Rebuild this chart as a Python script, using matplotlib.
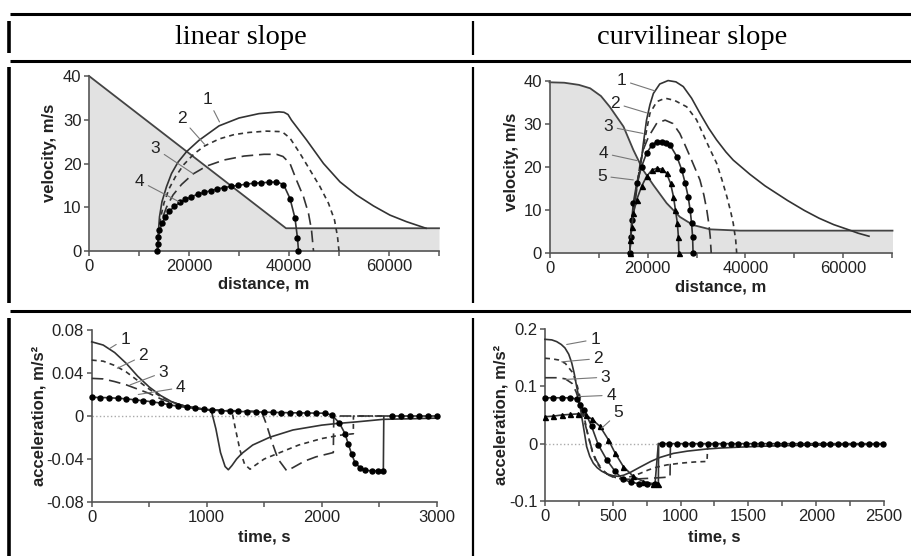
import matplotlib
matplotlib.use('Agg')
import matplotlib.pyplot as plt
from matplotlib.lines import Line2D

plt.rcParams['font.family'] = ['Liberation Sans', 'DejaVu Sans']
plt.rcParams['axes.unicode_minus'] = False

# ---------------- data: linear slope, velocity vs distance ----------------
lin_slope_x = [0, 39400, 70000]
lin_slope_y = [40, 5.2, 5.2]

lin_v1_x = [13700, 13850, 14100, 14600, 15500, 16500, 17800, 19500, 22000, 26000, 30000, 34000,
            38000, 39000, 39800, 40500, 43500, 46900, 50200, 53500, 56900, 60200, 63500, 67400]
lin_v1_y = [0, 4, 7.8, 11.3, 14.7, 17.7, 20.3, 22.7, 25.3, 28.6, 30.4, 31.4,
            31.8, 31.7, 31.2, 29.9, 25.4, 20, 15.8, 12.8, 10.3, 8.2, 6.7, 5.2]

lin_v2_x = [13700, 13900, 14300, 15000, 16000, 17300, 19000, 21000, 23100, 26000, 29000, 32000,
            35500, 38000, 38900, 40200, 42200, 44200, 46200, 47900, 49100, 49700, 50000]
lin_v2_y = [0, 4, 7.5, 11, 14.2, 17, 19.8, 22.2, 24, 25.6, 26.6, 27.1,
            27.4, 27.3, 27.0, 25.8, 22.3, 18.5, 14.7, 10.9, 7.1, 3.3, 0]

lin_v3_x = [13700, 14000, 14600, 15500, 16800, 18500, 20800, 23500, 27000, 31000, 35000, 37500,
            38800, 40200, 41500, 42900, 43900, 44500, 44900]
lin_v3_y = [0, 4, 7.2, 10, 12.8, 15.2, 17.6, 19.4, 20.8, 21.7, 22.1, 22.1,
            21.6, 20, 16.2, 12.4, 8.6, 4.8, 0]

lin_v4_x = [13700, 13750, 13900, 14100, 14600, 15300, 16100, 17100, 18200, 19300, 20500, 21800,
            23100, 24400, 25700, 27100, 28500, 29900, 31500, 33100, 34500, 36000, 37500, 38900,
            40200, 41200, 41700, 41900]
lin_v4_y = [0, 1.5, 3.1, 4.7, 6.3, 7.8, 9.1, 10.2, 11.1, 11.8, 12.4, 13.0,
            13.4, 13.8, 14.2, 14.5, 14.8, 15.0, 15.3, 15.5, 15.6, 15.7, 15.8, 15.2,
            12.0, 7.5, 2.9, 0]

# ---------------- data: curvilinear slope, velocity vs distance ----------------
cur_slope_x = [0, 3000, 6000, 8300, 10500, 12300, 15100, 17100, 19100, 21200, 23900, 26600,
               29300, 32800, 38900, 50000, 70000]
cur_slope_y = [39.7, 39.6, 39.1, 38.3, 36.5, 34.0, 29.4, 24.0, 19.3, 15.8, 11.6, 8.4,
               6.5, 5.5, 5.2, 5.2, 5.2]

cur_v1_x = [16400, 16600, 17000, 17600, 18500, 19100, 19800, 20500, 21200, 22500, 24200, 25800,
            27300, 29000, 30700, 32500, 34100, 36000, 37500, 40900, 44000, 48600, 52000, 55000,
            58000, 60800, 63000, 65200]
cur_v1_y = [0, 4, 9, 14, 19.3, 25, 30.9, 34.5, 37.1, 39.3, 40.1, 39.8,
            38.7, 36.0, 32.5, 29.0, 26.3, 23.5, 21.6, 18.3, 15.6, 12.2, 9.9, 8.1,
            6.6, 5.5, 4.6, 3.9]

cur_v2_x = [16400, 16600, 17100, 17700, 18400, 19100, 19800, 20500, 21900, 23600, 25500, 28000,
            30000, 31400, 32800, 34100, 35200, 36200, 37000, 37500, 38000, 38200]
cur_v2_y = [0, 5, 10, 15, 20, 24, 28.5, 32.5, 35.2, 36.0, 35.5, 34.0,
            31.0, 27.5, 24.0, 20.9, 17.0, 13.1, 9.5, 6.9, 3.0, 0]

cur_v3_x = [16400, 16600, 17000, 17600, 18500, 19300, 20200, 21900, 23600, 25200, 26600, 27700,
            28700, 29700, 30700, 31500, 32100, 32500, 32800, 33000]
cur_v3_y = [0, 4, 8, 13, 20.9, 24.5, 27.0, 30.2, 30.9, 30.1, 27.8, 25.0,
            22.4, 19.7, 17.0, 13.5, 10.0, 6.9, 3.8, 0]

cur_v4_x = [16400, 16600, 16800, 17100, 17800, 18800, 19800, 20900, 21900, 22900, 23800, 24600,
            26000, 27000, 27700, 28300, 28700, 29000, 29200, 29300]
cur_v4_y = [0, 3.8, 7.7, 11.6, 16.2, 20.1, 23.2, 25.1, 25.9, 25.9, 25.6, 25.1,
            22.4, 19.3, 16.2, 13.1, 10.0, 6.9, 3.8, 0]

cur_v5_x = [16400, 16500, 16800, 17100, 17800, 18800, 19800, 20900, 21900, 22900, 23900, 24700,
            25300, 25700, 26100, 26300, 26400]
cur_v5_y = [0, 3, 6.1, 9.2, 12.4, 15.5, 17.8, 19.3, 19.7, 19.5, 18.5, 16.2,
            13.1, 10.0, 6.9, 3.8, 0]

# ---------------- data: linear slope, acceleration vs time ----------------
lin_a1_t = [0, 100, 200, 300, 400, 500, 600, 700, 800, 900, 1000, 1040, 1080, 1120, 1160, 1188,
            1220, 1260, 1304, 1400, 1550, 1750, 2000, 2130, 2300, 2535, 2800, 3000]
lin_a1_v = [0.069, 0.066, 0.059, 0.049, 0.037, 0.027, 0.019, 0.013, 0.0095, 0.0075, 0.006, 0.005,
            -0.012, -0.034, -0.047, -0.050, -0.046, -0.040, -0.035, -0.027, -0.0197, -0.013,
            -0.0085, -0.007, -0.0055, -0.0031, -0.0025, -0.002]

lin_a2_t = [0, 100, 200, 300, 400, 500, 600, 700, 800, 900, 1000, 1100, 1200, 1220, 1250, 1290,
            1330, 1377, 1420, 1500, 1637, 1800, 2000, 2150, 2275, 2276, 2540]
lin_a2_v = [0.052, 0.051, 0.047, 0.041, 0.033, 0.025, 0.018, 0.013, 0.0095, 0.0075, 0.006, 0.0052,
            0.0048, 0.004, -0.012, -0.032, -0.045, -0.0495, -0.046, -0.040, -0.034, -0.027,
            -0.021, -0.018, -0.0165, 0, 0]

lin_a3_t = [0, 100, 200, 300, 400, 500, 600, 700, 800, 900, 1000, 1200, 1400, 1478, 1520, 1570,
            1620, 1696, 1750, 1850, 1950, 2101, 2105, 2540]
lin_a3_v = [0.035, 0.0345, 0.032, 0.029, 0.025, 0.021, 0.016, 0.012, 0.0095, 0.0075, 0.006, 0.005,
            0.0045, 0.004, -0.008, -0.025, -0.040, -0.051, -0.048, -0.042, -0.038, -0.034, 0, 0]

lin_a4_t = [0, 75, 150, 225, 300, 375, 450, 525, 600, 675, 750, 825, 900, 975, 1050, 1125, 1200,
            1275, 1350, 1425, 1500, 1575, 1650, 1725, 1800, 1875, 1950, 2025, 2087, 2153, 2203,
            2231, 2261, 2290, 2333, 2377, 2435, 2492, 2536, 2540, 2610, 2688, 2766, 2844, 2922, 3000]
lin_a4_v = [0.0174, 0.0172, 0.017, 0.0165, 0.016, 0.015, 0.0142, 0.0132, 0.012, 0.0105, 0.009,
            0.008, 0.007, 0.0062, 0.0056, 0.005, 0.0046, 0.0042, 0.004, 0.0038, 0.0036, 0.0034,
            0.0032, 0.003, 0.0029, 0.0028, 0.0027, 0.0026, 0.001, -0.0064, -0.0165, -0.026,
            -0.0356, -0.0435, -0.048, -0.0505, -0.051, -0.051, -0.051, 0, 0, 0, 0, 0, 0, 0]

# ---------------- data: curvilinear slope, acceleration vs time ----------------
cur_a1_t = [0, 50, 86, 120, 147, 175, 197, 215, 233, 250, 270, 290, 307, 330, 356, 385, 418, 460,
            504, 540, 580, 630, 700, 780, 848, 946, 1050, 1192, 1300, 1438, 1600, 1800, 2000,
            2200, 2500]
cur_a1_v = [0.182, 0.181, 0.178, 0.173, 0.167, 0.156, 0.141, 0.123, 0.100, 0.080, 0.048, 0.020,
            -0.005, -0.022, -0.034, -0.042, -0.048, -0.053, -0.056, -0.057, -0.055, -0.050,
            -0.041, -0.031, -0.024, -0.017, -0.013, -0.0093, -0.0075, -0.006, -0.0045, -0.0033,
            -0.0025, -0.0018, -0.001]

cur_a2_t = [0, 50, 100, 150, 200, 230, 260, 290, 320, 350, 380, 420, 470, 520, 580, 640, 700, 760,
            823, 900, 1000, 1100, 1195, 1200]
cur_a2_v = [0.149, 0.148, 0.146, 0.140, 0.125, 0.108, 0.080, 0.045, 0.012, -0.015, -0.033, -0.046,
            -0.055, -0.059, -0.060, -0.057, -0.052, -0.046, -0.041, -0.037, -0.034, -0.032,
            -0.031, 0]

cur_a3_t = [0, 100, 150, 200, 230, 260, 290, 320, 350, 380, 420, 470, 520, 580, 650, 720, 800,
            870, 922, 925]
cur_a3_v = [0.115, 0.115, 0.113, 0.105, 0.090, 0.068, 0.040, 0.012, -0.013, -0.030, -0.045,
            -0.055, -0.060, -0.062, -0.062, -0.061, -0.060, -0.059, -0.058, 0]

cur_a4_t = [0, 61, 123, 184, 233, 258, 290, 344, 393, 455, 516, 573, 632, 696, 750, 811, 836,
            860, 917, 973, 1030, 1086, 1143, 1199, 1256, 1312, 1369, 1425, 1482, 1538, 1595, 1651,
            1708, 1764, 1821, 1877, 1934, 1990, 2047, 2103, 2160, 2216, 2273, 2329, 2386, 2442, 2490]
cur_a4_v = [0.080, 0.080, 0.080, 0.080, 0.078, 0.068, 0.058, 0.030, -0.002, -0.028, -0.048,
            -0.062, -0.067, -0.070, -0.071, -0.071, 0,
            0, 0, 0, 0, 0, 0, 0, 0, 0, 0, 0, 0, 0, 0, 0, 0, 0, 0, 0, 0, 0, 0, 0, 0, 0, 0, 0, 0, 0, 0]

cur_a5_t = [0, 61, 123, 184, 245, 300, 344, 406, 467, 516, 578, 651, 725, 799, 836, 838]
cur_a5_v = [0.047, 0.048, 0.050, 0.051, 0.052, 0.050, 0.043, 0.030, 0.007, -0.016, -0.040,
            -0.057, -0.066, -0.070, -0.071, 0]

# curve labels: (text x, text y, leader x, leader y)
lin_v_labels = [('1', 23800, 34.7, 26100, 29.5), ('2', 18500, 30.3, 23100, 24.4),
                ('3', 13300, 23.4, 20800, 17.7), ('4', 10100, 16.0, 18100, 11.2)]
cur_v_labels = [('1', 14700, 40.2, 21500, 37.7), ('2', 13400, 34.8, 19800, 32.6),
                ('3', 12000, 29.4, 19100, 27.8), ('4', 11000, 23.2, 17800, 21.5),
                ('5', 10700, 17.9, 17100, 17.0)]
lin_a_labels = [('1', 290, 0.0716, 159, 0.063), ('2', 449, 0.056, 223, 0.0444),
                ('3', 623, 0.0407, 333, 0.0289), ('4', 774, 0.0264, 405, 0.020)]
cur_a_labels = [('1', 369, 0.182, 160, 0.173), ('2', 393, 0.1485, 123, 0.1427),
                ('3', 447, 0.116, 147, 0.112), ('4', 487, 0.0845, 246, 0.082),
                ('5', 541, 0.0536, 418, 0.027)]

headers = ['linear slope', 'curvilinear slope']

# ---------------- figure ----------------
W, H = 912, 556
fig = plt.figure(figsize=(W / 100, H / 100), dpi=100)
fig.patch.set_facecolor('white')

AX = '#555555'
LC = '#333333'


def px_axes(l, t, r, b):
    return fig.add_axes([l / W, 1 - b / H, (r - l) / W, (b - t) / H])


def style(ax, xlim, ylim, xmaj, xmin, yt, ytl, xlabel, ylabel, ylx, yly, xly):
    ax.set_xlim(*xlim)
    ax.set_ylim(*ylim)
    for s in ['top', 'right']:
        ax.spines[s].set_visible(False)
    for s in ['left', 'bottom']:
        ax.spines[s].set_color(AX)
        ax.spines[s].set_linewidth(1.2)
    ax.set_xticks(xmaj)
    ax.set_xticks(xmin, minor=True)
    ax.set_yticks(yt, labels=ytl)
    ax.tick_params(which='both', direction='out', length=3.5, width=1.1, color=AX,
                   labelsize=12, labelcolor='#222222', pad=2)
    ax.set_xlabel(xlabel, fontsize=12, fontweight='bold', va='center', color='#222222')
    ax.set_ylabel(ylabel, fontsize=12, fontweight='bold', va='center', color='#222222')
    ax.yaxis.set_label_coords(ylx, yly)
    ax.xaxis.set_label_coords(0.5, xly)
    ax.patch.set_alpha(0)


def curves(ax, data):
    for x, y, kind in data:
        kw = dict(color=LC, lw=1.2, clip_on=False, zorder=3)
        if kind == 1:
            ax.plot(x, y, ls='-', **kw)
        elif kind == 2:
            ax.plot(x, y, ls=(0, (3, 2.5)), **kw)
        elif kind == 3:
            ax.plot(x, y, ls=(0, (7, 3.5)), **kw)
        elif kind == 4:
            ax.plot(x, y, ls='-', marker='o', ms=3.6, mfc='k', mec='k', **kw)
        elif kind == 5:
            ax.plot(x, y, ls='-', marker='^', ms=3.6, mfc='k', mec='k', **kw)


def labels(ax, lab):
    for s, tx, ty, lx, ly in lab:
        ax.annotate(s, xy=(lx, ly), xytext=(tx, ty), ha='center', va='center', fontsize=12.5,
                    color='#222222', zorder=5,
                    arrowprops=dict(arrowstyle='-', color='#777777', lw=0.8, shrinkA=1, shrinkB=0))


# panel 1
ax1 = px_axes(89, 76, 439, 251)
ax1.fill_between(lin_slope_x, lin_slope_y, 0, color='#e2e2e2', lw=0, zorder=1)
ax1.plot(lin_slope_x, lin_slope_y, color='#444444', lw=1.3, zorder=2, clip_on=False)
curves(ax1, [(lin_v1_x, lin_v1_y, 1), (lin_v2_x, lin_v2_y, 2), (lin_v3_x, lin_v3_y, 3),
             (lin_v4_x, lin_v4_y, 4)])
labels(ax1, lin_v_labels)
style(ax1, (0, 70000), (0, 40), [0, 20000, 40000, 60000], [10000, 30000, 50000, 70000],
      [0, 10, 20, 30, 40], ['0', '10', '20', '30', '40'], 'distance, m', 'velocity, m/s',
      -0.113, 0.56, -0.19)

# panel 2
ax2 = px_axes(549.5, 81, 892.5, 253)
ax2.fill_between(cur_slope_x, cur_slope_y, 0, color='#e2e2e2', lw=0, zorder=1)
ax2.plot(cur_slope_x, cur_slope_y, color='#444444', lw=1.3, zorder=2, clip_on=False)
curves(ax2, [(cur_v1_x, cur_v1_y, 1), (cur_v2_x, cur_v2_y, 2), (cur_v3_x, cur_v3_y, 3),
             (cur_v4_x, cur_v4_y, 4), (cur_v5_x, cur_v5_y, 5)])
labels(ax2, cur_v_labels)
style(ax2, (0, 70000), (0, 40), [0, 20000, 40000, 60000], [10000, 30000, 50000, 70000],
      [0, 10, 20, 30, 40], ['0', '10', '20', '30', '40'], 'distance, m', 'velocity, m/s',
      -0.11, 0.53, -0.2)

# panel 3
ax3 = px_axes(91.7, 330, 436.7, 502)
ax3.axhline(0, color='#aaaaaa', lw=1.0, ls=':', zorder=0)
curves(ax3, [(lin_a1_t, lin_a1_v, 1), (lin_a2_t, lin_a2_v, 2), (lin_a3_t, lin_a3_v, 3)])
ax3.plot(lin_a4_t, lin_a4_v, color=LC, lw=1.2, clip_on=False, zorder=3)
ax3.plot([t for i, t in enumerate(lin_a4_t) if i != 39], [v for i, v in enumerate(lin_a4_v) if i != 39],
         ls='none', marker='o', ms=3.6, mfc='k', mec='k', clip_on=False, zorder=4)
labels(ax3, lin_a_labels)
style(ax3, (0, 3000), (-0.08, 0.08), [0, 1000, 2000, 3000], [500, 1500, 2500],
      [-0.08, -0.04, 0, 0.04, 0.08], ['-0.08', '-0.04', '0', '0.04', '0.08'],
      'time, s', 'acceleration, m/s²', -0.152, 0.5, -0.205)

# panel 4
ax4 = px_axes(545, 329, 884, 501)
ax4.axhline(0, color='#aaaaaa', lw=1.0, ls=':', zorder=0)
curves(ax4, [(cur_a1_t, cur_a1_v, 1), (cur_a2_t, cur_a2_v, 2), (cur_a3_t, cur_a3_v, 3)])
ax4.plot(cur_a5_t, cur_a5_v, color=LC, lw=1.2, clip_on=False, zorder=3)
ax4.plot(cur_a5_t[:-1], cur_a5_v[:-1], ls='none', marker='^', ms=3.6, mfc='k', mec='k', clip_on=False, zorder=4)
ax4.plot(cur_a4_t, cur_a4_v, color=LC, lw=1.2, clip_on=False, zorder=3)
ax4.plot([t for i, t in enumerate(cur_a4_t) if i != 16], [v for i, v in enumerate(cur_a4_v) if i != 16],
         ls='none', marker='o', ms=3.6, mfc='k', mec='k', clip_on=False, zorder=4)
labels(ax4, cur_a_labels)
style(ax4, (0, 2500), (-0.1, 0.2), [0, 500, 1000, 1500, 2000, 2500],
      [250, 750, 1250, 1750, 2250], [-0.1, 0, 0.1, 0.2], ['-0.1', '0', '0.1', '0.2'],
      'time, s', 'acceleration, m/s²', -0.13, 0.5, -0.209)

# ---------------- table frame ----------------


def fline(x0, y0, x1, y1, lw):
    fig.add_artist(Line2D([x0 / W, x1 / W], [1 - y0 / H, 1 - y1 / H], transform=fig.transFigure,
                          color='black', lw=lw, solid_capstyle='butt'))


for y in (14, 61, 311):
    fline(10, y, 912, y, 2.2)
for (a, b) in ((21, 53), (67, 303), (318, 556)):
    fline(9.5, a, 9.5, b, 2.6)
for (a, b) in ((21, 55), (67, 303), (318, 556)):
    fline(473, a, 473, b, 1.6)

fig.text(241 / W, 1 - 37 / H, headers[0], ha='center', va='center', fontsize=20.5,
         family='Liberation Serif')
fig.text(692 / W, 1 - 37 / H, headers[1], ha='center', va='center', fontsize=20.5,
         family='Liberation Serif')

fig.savefig('out.png', dpi=100, facecolor='white')
